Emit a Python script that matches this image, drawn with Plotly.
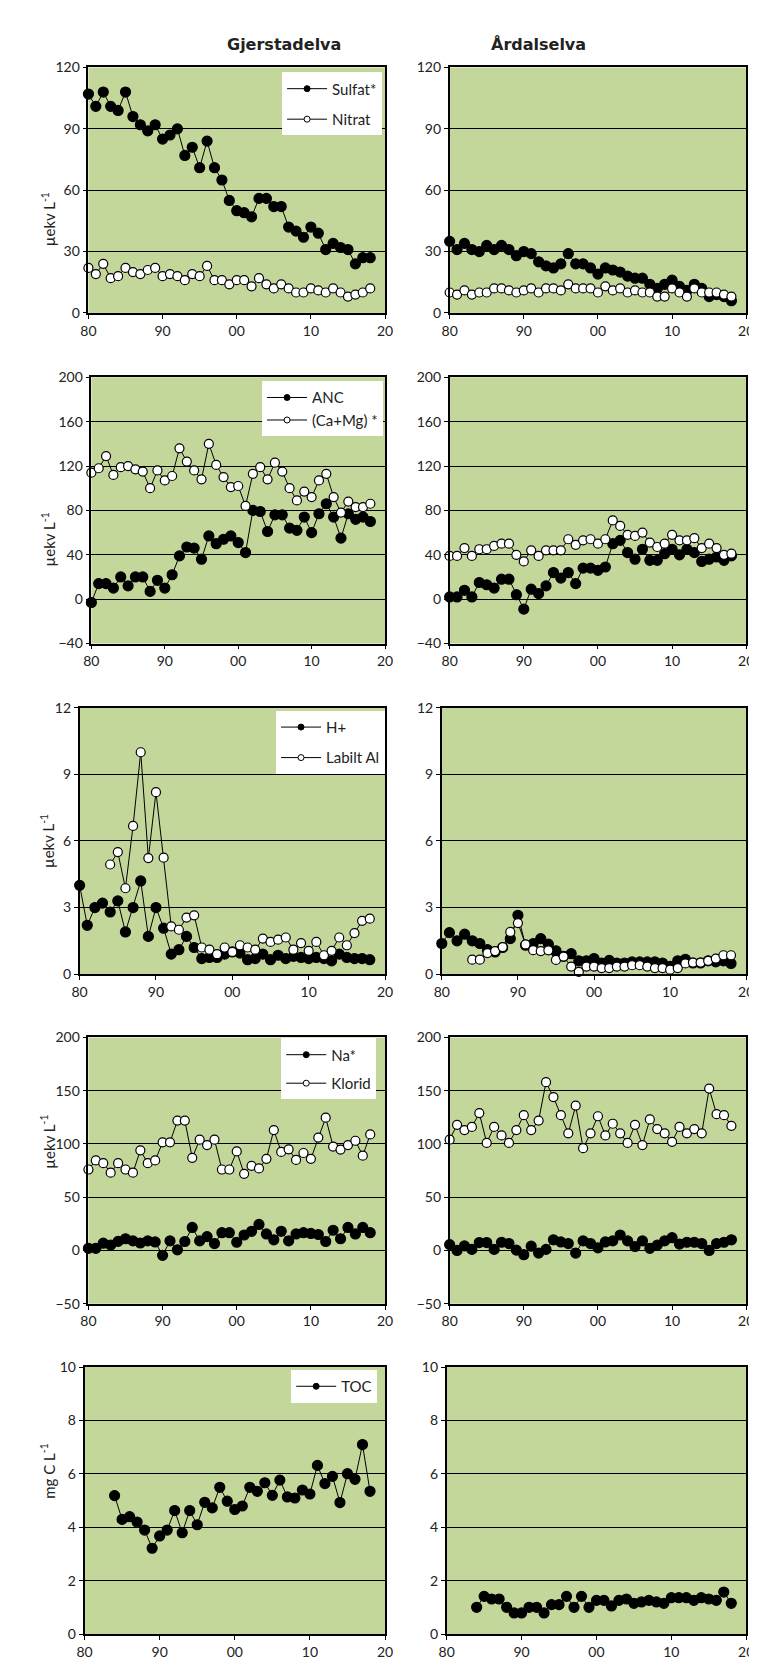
import plotly.graph_objects as go

years = list(range(1980, 2019))
years84 = list(range(1984, 2019))

# Row 1: Sulfat* / Nitrat
g_sulfat = [107, 101, 108, 101, 99, 108, 96, 92, 89, 92, 85, 87, 90, 77, 81, 71, 84, 71, 65, 55,
            50, 49, 47, 56, 56, 52, 52, 42, 40, 37, 42, 39, 31, 34, 32, 31, 24, 27, 27]
g_nitrat = [22, 19, 24, 17, 18, 22, 20, 19, 21, 22, 18, 19, 18, 16, 19, 18, 23, 16, 16, 14,
            16, 16, 13, 17, 14, 12, 14, 12, 10, 10, 12, 11, 10, 12, 10, 8, 9, 10, 12]
a_sulfat = [35, 31, 34, 31, 30, 33, 31, 33, 31, 28, 30, 29, 25, 23, 22, 24, 29, 24, 24, 22,
            19, 22, 21, 20, 18, 17, 17, 14, 12, 14, 16, 13, 11, 14, 12, 8, 9, 8, 6]
a_nitrat = [10, 9, 11, 9, 10, 10, 12, 12, 11, 10, 11, 12, 10, 12, 12, 11, 14, 12, 12, 12,
            10, 13, 11, 12, 10, 11, 10, 10, 8, 8, 12, 10, 8, 12, 10, 10, 10, 9, 8]

# Row 2: ANC / (Ca+Mg)*
g_anc = [-3, 14, 14, 10, 20, 12, 20, 20, 7, 17, 10, 22, 39, 47, 46, 36, 57, 50, 54, 57,
         51, 42, 80, 79, 61, 76, 76, 64, 62, 74, 60, 77, 86, 74, 55, 77, 72, 74, 70]
g_camg = [114, 118, 129, 112, 119, 120, 117, 115, 100, 116, 107, 111, 136, 124, 116, 108, 140, 121, 110, 101,
          102, 84, 113, 119, 108, 123, 115, 100, 89, 97, 92, 107, 113, 92, 78, 88, 83, 83, 86]
a_anc = [2, 2, 8, 2, 15, 13, 10, 18, 18, 4, -9, 9, 5, 12, 24, 19, 24, 14, 28, 28,
         26, 29, 50, 53, 42, 36, 45, 35, 35, 41, 45, 40, 45, 42, 34, 36, 38, 35, 39]
a_camg = [39, 39, 46, 39, 45, 45, 48, 50, 50, 40, 34, 44, 39, 44, 44, 44, 54, 49, 53, 54,
          50, 54, 71, 66, 58, 57, 60, 51, 47, 50, 58, 53, 53, 55, 46, 50, 46, 40, 41]

# Row 3: H+ / Labilt Al
g_h = [4.0, 2.2, 3.0, 3.2, 2.8, 3.3, 1.9, 3.0, 4.2, 1.7, 3.0, 2.07, 0.9, 1.1, 1.7, 1.2, 0.7, 0.75, 0.75, 0.9,
       1.0, 0.95, 0.65, 0.7, 0.9, 0.65, 0.85, 0.7, 0.8, 0.75, 0.7, 0.75, 0.7, 0.6, 0.9, 0.75, 0.7, 0.7, 0.65]
g_al = [4.94, 5.5, 3.87, 6.68, 10.0, 5.23, 8.2, 5.25, 2.15, 2.0, 2.55, 2.65, 1.2, 1.1, 0.9, 1.2,
        1.0, 1.3, 1.2, 1.1, 1.6, 1.45, 1.55, 1.65, 1.1, 1.4, 1.05, 1.45, 0.85, 1.05, 1.65, 1.3, 1.85, 2.4, 2.5]
a_h = [1.38, 1.87, 1.5, 1.8, 1.5, 1.38, 1.1, 1.0, 1.2, 1.6, 2.65, 1.3, 1.37, 1.6, 1.35, 1.05, 0.8, 0.92, 0.6, 0.6,
       0.7, 0.5, 0.62, 0.5, 0.5, 0.55, 0.55, 0.55, 0.55, 0.5, 0.35, 0.6, 0.67, 0.5, 0.5, 0.6, 0.55, 0.6, 0.48]
a_al = [0.65, 0.65, 0.95, 1.04, 1.22, 1.9, 2.3, 1.34, 1.08, 1.04, 1.07, 0.64, 0.79, 0.34, 0.1, 0.34,
        0.34, 0.27, 0.27, 0.34, 0.34, 0.4, 0.4, 0.34, 0.27, 0.27, 0.2, 0.27, 0.48, 0.52, 0.52, 0.6, 0.7, 0.85, 0.85]

# Row 4: Na* / Klorid
g_na = [2, 2, 6.8, 5, 8.5, 11, 9, 7, 9, 8, -4.6, 9, 0.6, 8.4, 21.6, 9, 13, 6.5, 16.7, 16.7,
        7.7, 14.5, 18, 24.4, 15.5, 10, 18, 9, 15.5, 16.7, 16, 15, 8.4, 19, 11, 21.6, 15.5, 21.6, 16.7]
g_cl = [76, 84.5, 82, 73, 82, 76, 73, 94, 82, 84.5, 101.5, 101.5, 122, 122, 87, 104, 99, 104, 76, 76,
        93, 72, 79.5, 77, 86, 113, 92.5, 95, 85, 91.5, 86, 106, 124.7, 97.5, 94.7, 99, 103, 89, 109]
a_na = [5.5, 0, 4.3, 1, 7.4, 7.4, 1, 7.7, 6.5, 0.3, -4, 4, -2.5, 1, 10, 8, 6.5, -2.5, 9, 6.5,
        2.5, 8, 9, 14.5, 9, 3.7, 9, 2, 5, 9, 12, 6, 7.7, 7.7, 6.5, 0, 6.5, 7.7, 10]
a_cl = [104, 118, 113, 116, 129, 101, 116, 108, 101, 113, 127, 113, 122, 158, 144, 127, 110, 136, 96, 110,
        126, 108, 119, 110, 101, 118, 99, 123, 114, 110, 102, 116, 110, 114, 110, 152, 128, 127, 117]

# Row 5: TOC
g_toc = [5.19, 4.3, 4.4, 4.2, 3.9, 3.22, 3.68, 3.9, 4.63, 3.8, 4.63, 4.1, 4.94, 4.73, 5.5, 4.98, 4.67, 4.8,
         5.5, 5.35, 5.67, 5.2, 5.77, 5.14, 5.1, 5.4, 5.25, 6.32, 5.64, 5.91, 4.93, 6.01, 5.8, 7.1, 5.35]
a_toc = [1.01, 1.42, 1.32, 1.32, 1.01, 0.8, 0.8, 1.01, 1.01, 0.8, 1.11, 1.11, 1.42, 1.01, 1.42, 1.01, 1.27, 1.27,
         1.06, 1.27, 1.32, 1.16, 1.21, 1.27, 1.21, 1.16, 1.37, 1.37, 1.37, 1.27, 1.37, 1.32, 1.27, 1.58, 1.16]

x_tickvals = [1980, 1990, 2000, 2010, 2020]
x_ticktext = ["80", "90", "00", "10", "20"]
y_ranges = [(0, 120, 30), (-40, 200, 40), (0, 12, 3), (-50, 200, 50), (0, 10, 2)]
y_titles = ["µekv L<sup>-1</sup>"] * 4 + ["mg C L<sup>-1</sup>"]

W, H = 757, 1663
GREEN = "#C4D79B"
FONT = "Lato"
TXT = "#222"

rows_px = [(51, 299), (364, 633), (698, 967), (1031, 1300), (1364, 1634)]
left_l = [74, 77, 65, 74, 70]
right_l = [443, 443, 435, 443, 440]
legend_pos = [(374, 56), (375, 368), (377, 701), (368, 1032), (369, 1367)]
legend_gaps = [8, 0, 8, 6, 0]

panels = [
    [(years, g_sulfat, "Sulfat*", True), (years, g_nitrat, "Nitrat", False)],
    [(years, g_anc, "ANC", True), (years, g_camg, "(Ca+Mg) *", False)],
    [(years, g_h, "H+", True), (years84, g_al, "Labilt Al", False)],
    [(years, g_na, "Na*", True), (years, g_cl, "Klorid", False)],
    [(years84, g_toc, "TOC", True)],
]
panels_r = [
    [(years, a_sulfat, "Sulfat*", True), (years, a_nitrat, "Nitrat", False)],
    [(years, a_anc, "ANC", True), (years, a_camg, "(Ca+Mg) *", False)],
    [(years, a_h, "H+", True), (years84, a_al, "Labilt Al", False)],
    [(years, a_na, "Na*", True), (years, a_cl, "Klorid", False)],
    [(years84, a_toc, "TOC", True)],
]

fig = go.Figure()
layout = {}
annotations = []


def axis_common():
    return dict(showline=True, linecolor="black", linewidth=1.6, mirror=True,
                ticks="outside", ticklen=4, tickcolor="black",
                tickfont=dict(family=FONT, size=14, color=TXT))


idx = 0
for r in range(5):
    top, bot = rows_px[r]
    ydom = [1 - bot / H, 1 - top / H]
    lo, hi, dt = y_ranges[r]
    for c in range(2):
        idx += 1
        xl = left_l[r] if c == 0 else right_l[r]
        xr = 377 if c == 0 else 746
        xname = "xaxis" if idx == 1 else f"xaxis{idx}"
        yname = "yaxis" if idx == 1 else f"yaxis{idx}"
        xref = "x" if idx == 1 else f"x{idx}"
        yref = "y" if idx == 1 else f"y{idx}"
        xa = axis_common()
        xa.update(domain=[xl / W, xr / W], range=[1980, 2020], tickvals=x_tickvals,
                  ticktext=x_ticktext, showgrid=False, zeroline=False, anchor=yref)
        ya = axis_common()
        ya.update(domain=ydom, range=[lo, hi], dtick=dt, tick0=lo, showgrid=True,
                  gridcolor="black", gridwidth=1, zeroline=True, zerolinecolor="black",
                  zerolinewidth=1, anchor=xref)
        layout[xname] = xa
        layout[yname] = ya
        legname = "legend" if r == 0 else f"legend{r + 1}"
        series = panels[r] if c == 0 else panels_r[r]
        for k, (xs, ys, name, filled) in enumerate(series):
            fig.add_trace(go.Scatter(
                x=xs, y=ys, name=name, mode="lines+markers", xaxis=xref, yaxis=yref,
                line=dict(color="black", width=1),
                marker=dict(size=10 if filled else 9, color="black" if filled else "white",
                            line=dict(color="black", width=1.2), symbol="circle"),
                cliponaxis=False, showlegend=False))
            if c == 0:
                # legend-only sample with smaller marker, as in the reference legend
                fig.add_trace(go.Scatter(
                    x=[None], y=[None], name=name, mode="lines+markers", xaxis=xref, yaxis=yref,
                    line=dict(color="black", width=1),
                    marker=dict(size=6, color="black" if filled else "white",
                                line=dict(color="black", width=1), symbol="circle"),
                    showlegend=True, legend=legname, legendgroup=f"g{r}_{k}"))
        if c == 0:
            lx, ly = legend_pos[r]
            layout[legname] = dict(x=lx / W, y=1 - ly / H, xanchor="right", yanchor="top",
                                   bgcolor="white", borderwidth=0,
                                   font=dict(family=FONT, size=15, color=TXT),
                                   tracegroupgap=legend_gaps[r], itemwidth=40,
                                   itemsizing="trace")
            annotations.append(dict(text=y_titles[r], x=21 / W, y=1 - (top + bot) / 2 / H,
                                    xref="paper", yref="paper", showarrow=False, textangle=-90,
                                    font=dict(family=FONT, size=15, color=TXT)))

annotations.append(dict(text="<b>Gjerstadelva</b>", x=214 / W, y=1 - 16 / H, xref="paper", yref="paper",
                        showarrow=False, font=dict(family="DejaVu Sans", size=16, color=TXT)))
annotations.append(dict(text="<b>Årdalselva</b>", x=584 / W, y=1 - 16 / H, xref="paper", yref="paper",
                        showarrow=False, font=dict(family="DejaVu Sans", size=16, color=TXT)))

fig.update_layout(**layout)
fig.update_layout(width=W, height=H, margin=dict(l=0, r=0, t=0, b=0),
                  paper_bgcolor="white", plot_bgcolor=GREEN, annotations=annotations)

fig.write_html("out.html")
